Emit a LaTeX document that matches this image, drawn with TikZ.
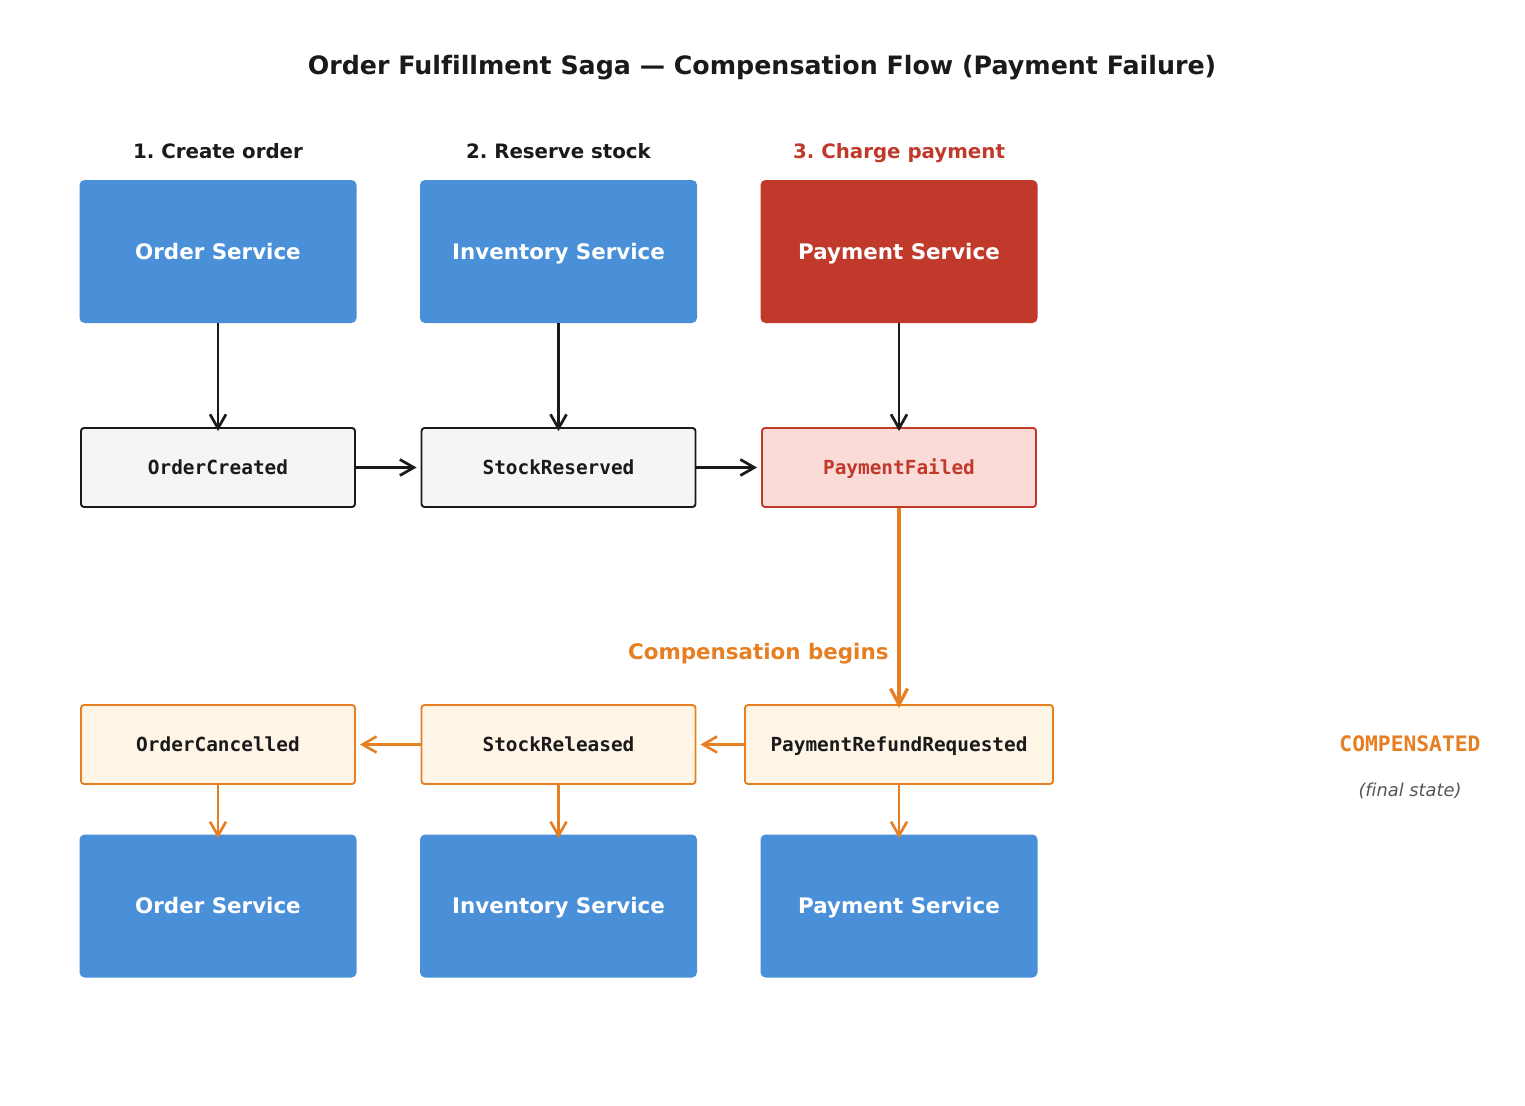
\documentclass[tikz,border=0pt]{standalone}
\usepackage{fontspec}
\setmainfont[Ligatures=NoCommon]{DejaVu Sans}
\setmonofont{DejaVu Sans Mono}
\usetikzlibrary{arrows.meta}
\definecolor{svcblue}{HTML}{4A90D9}
\definecolor{failred}{HTML}{C0392B}
\definecolor{comporange}{HTML}{E67E22}
\definecolor{redfill}{HTML}{FADBD8}
\definecolor{orangefill}{HTML}{FEF5E7}
\definecolor{grayfill}{HTML}{F5F5F5}
\definecolor{ink}{HTML}{1A1A1A}
\definecolor{note}{HTML}{555555}
\frenchspacing
\begin{document}
\begin{tikzpicture}[x=1pt,y=-1pt,
  svc/.style={rounded corners=5pt,minimum width=277pt,minimum height=143pt,inner sep=0pt,
    text height=15.6pt,text depth=0pt,
    text=white,font=\fontsize{21.4}{24}\selectfont\bfseries},
  evt/.style={rounded corners=3pt,minimum width=274pt,minimum height=79pt,inner sep=0pt,line width=1.9pt,
    text height=14.1pt,text depth=0pt,
    font=\fontsize{19.4}{22}\selectfont\ttfamily\bfseries},
  okevt/.style={evt,draw=ink,fill=grayfill,text=ink},
  failevt/.style={evt,draw=failred,fill=redfill,text=failred},
  compevt/.style={evt,draw=comporange,fill=orangefill,text=ink},
  steplbl/.style={anchor=base,font=\fontsize{19.8}{24}\selectfont\bfseries},
  arr/.style={line width=2.7pt,ink,-{Straight Barb[length=14pt,width=16pt,line width=2.7pt]}},
  carr/.style={line width=2.6pt,comporange,-{Straight Barb[length=14pt,width=16pt,line width=2.6pt]}},
  bigarr/.style={line width=3.3pt,comporange,-{Straight Barb[length=16pt,width=17pt,line width=3.3pt]}}
]
\useasboundingbox (0,0) rectangle (1525,1105);
\node[anchor=base,font=\fontsize{25.3}{30}\selectfont\bfseries,text=ink] (title) at (762,75) {Order Fulfillment Saga — Compensation Flow (Payment Failure)};

\node[steplbl,text=ink] (s1) at (218,158) {1. Create order};
\node[steplbl,text=ink] (s2) at (558.5,158) {2. Reserve stock};
\node[steplbl,text=failred] (s3) at (899,158) {3. Charge payment};

\node[svc,fill=svcblue] (os) at (218,251.5) {Order Service};
\node[svc,fill=svcblue] (is) at (558.5,251.5) {Inventory Service};
\node[svc,fill=failred] (ps) at (899,251.5) {Payment Service};

\node[okevt] (oc) at (218,467.5) {OrderCreated};
\node[okevt] (sr) at (558.5,467.5) {StockReserved};
\node[failevt] (pf) at (899,467.5) {PaymentFailed};

\node[compevt] (ocl) at (218,744.5) {OrderCancelled};
\node[compevt] (srl) at (558.5,744.5) {StockReleased};
\node[compevt,minimum width=308pt] (prr) at (899,744.5) {PaymentRefundRequested};

\node[svc,fill=svcblue] (os2) at (218,906) {Order Service};
\node[svc,fill=svcblue] (is2) at (558.5,906) {Inventory Service};
\node[svc,fill=svcblue] (ps2) at (899,906) {Payment Service};

\node[font=\fontsize{21.4}{25}\selectfont\bfseries,text=comporange,anchor=base east] (cb) at (892,659) {Compensation begins};
\node[anchor=base,font=\fontsize{21.3}{24}\selectfont\ttfamily\bfseries,text=comporange] (cmp) at (1410,751) {COMPENSATED};
\node[anchor=base,font=\fontsize{17.8}{21}\selectfont\itshape,text=note] (fs) at (1410,796) {(final state)};

\draw[arr] (os.south) -- ([yshift=-4pt]oc.north);
\draw[arr] (is.south) -- ([yshift=-4pt]sr.north);
\draw[arr] (ps.south) -- ([yshift=-4pt]pf.north);
\draw[arr] (oc.east) -- ([xshift=-4pt]sr.west);
\draw[arr] (sr.east) -- ([xshift=-4pt]pf.west);
\draw[bigarr] (pf.south) -- ([yshift=-4pt]prr.north);
\draw[carr] (prr.west) -- ([xshift=4pt]srl.east);
\draw[carr] (srl.west) -- ([xshift=4pt]ocl.east);
\draw[carr] (ocl.south) -- ([yshift=-4pt]os2.north);
\draw[carr] (srl.south) -- ([yshift=-4pt]is2.north);
\draw[carr] (prr.south) -- ([yshift=-4pt]ps2.north);
\end{tikzpicture}
\end{document}
